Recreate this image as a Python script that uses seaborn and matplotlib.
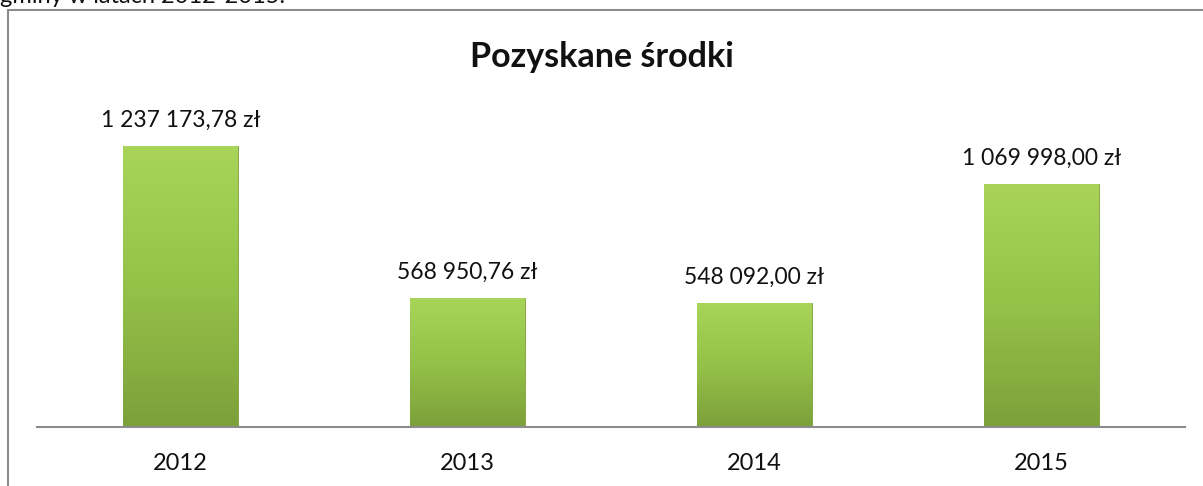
import matplotlib
matplotlib.use("Agg")
import matplotlib.pyplot as plt
import numpy as np
import pandas as pd
import seaborn as sns
from matplotlib.lines import Line2D
from matplotlib.colors import LinearSegmentedColormap

years = ["2012", "2013", "2014", "2015"]
amounts = [1237173.78, 568950.76, 548092.00, 1069998.00]
amount_labels = ["1 237 173,78 zł", "568 950,76 zł", "548 092,00 zł", "1 069 998,00 zł"]
title = "Pozyskane środki"
page_text = "gminy w latach 2012-2015."

sns.set_theme(style="white")
plt.rcParams["font.family"] = ["Lato", "DejaVu Sans"]

W, H = 1203, 486
fig = plt.figure(figsize=(W / 100, H / 100), dpi=100)
ax = fig.add_axes([37 / W, 1 - 427 / H, (1185 - 37) / W, (427 - 100) / H])

df = pd.DataFrame({"year": years, "amount": amounts})
sns.barplot(data=df, x="year", y="amount", color="#94c248", width=0.40,
            saturation=1, ax=ax, edgecolor="#7d9e3a", linewidth=0.6)

# vertical gradient on each bar, light top -> darker bottom
green = LinearSegmentedColormap.from_list("g", ["#a8d45a", "#94c249", "#7da03a"])
grad = np.linspace(0, 1, 256).reshape(-1, 1)
for patch in ax.patches:
    x0, y0 = patch.get_x(), patch.get_y()
    w, h = patch.get_width(), patch.get_height()
    im = ax.imshow(grad, cmap=green, aspect="auto", extent=(x0, x0 + w, y0, y0 + h),
                   origin="upper", zorder=patch.get_zorder() + 0.1)
    im.set_clip_path(patch)

for i, (val, lab) in enumerate(zip(amounts, amount_labels)):
    ax.annotate(lab, (i, val), xytext=(0, 13.5), textcoords="offset points",
                ha="center", va="baseline", fontsize=16.5, color="#111111")

ax.set_xlim(-0.5, 3.5)
ax.set_ylim(0, 1.44e6)
ax.set_xlabel("")
ax.set_ylabel("")
ax.set_yticks([])
ax.tick_params(axis="x", length=0, pad=19, labelsize=17, labelcolor="#111111")
for side in ["top", "right", "left"]:
    ax.spines[side].set_visible(False)
ax.spines["bottom"].set_color("#8c8c8c")
ax.spines["bottom"].set_linewidth(1.5)

fig.text(0.5, 1 - 57 / H, title, ha="center", va="center", fontsize=24.5,
         fontweight="bold", color="#111111")

# frame of the embedded chart
fig.add_artist(Line2D([8 / W, 8 / W], [0, 1 - 10 / H], color="#8c8c8c", linewidth=1.5))
fig.add_artist(Line2D([8 / W, 1], [1 - 10 / H, 1 - 10 / H], color="#8c8c8c", linewidth=1.5))

# surrounding document text, cut off at the top as on the page
fig.text(0.0, 1 - 3 / H, page_text, ha="left", va="baseline", fontsize=17, color="#111111")

fig.savefig("out.png", dpi=100)
